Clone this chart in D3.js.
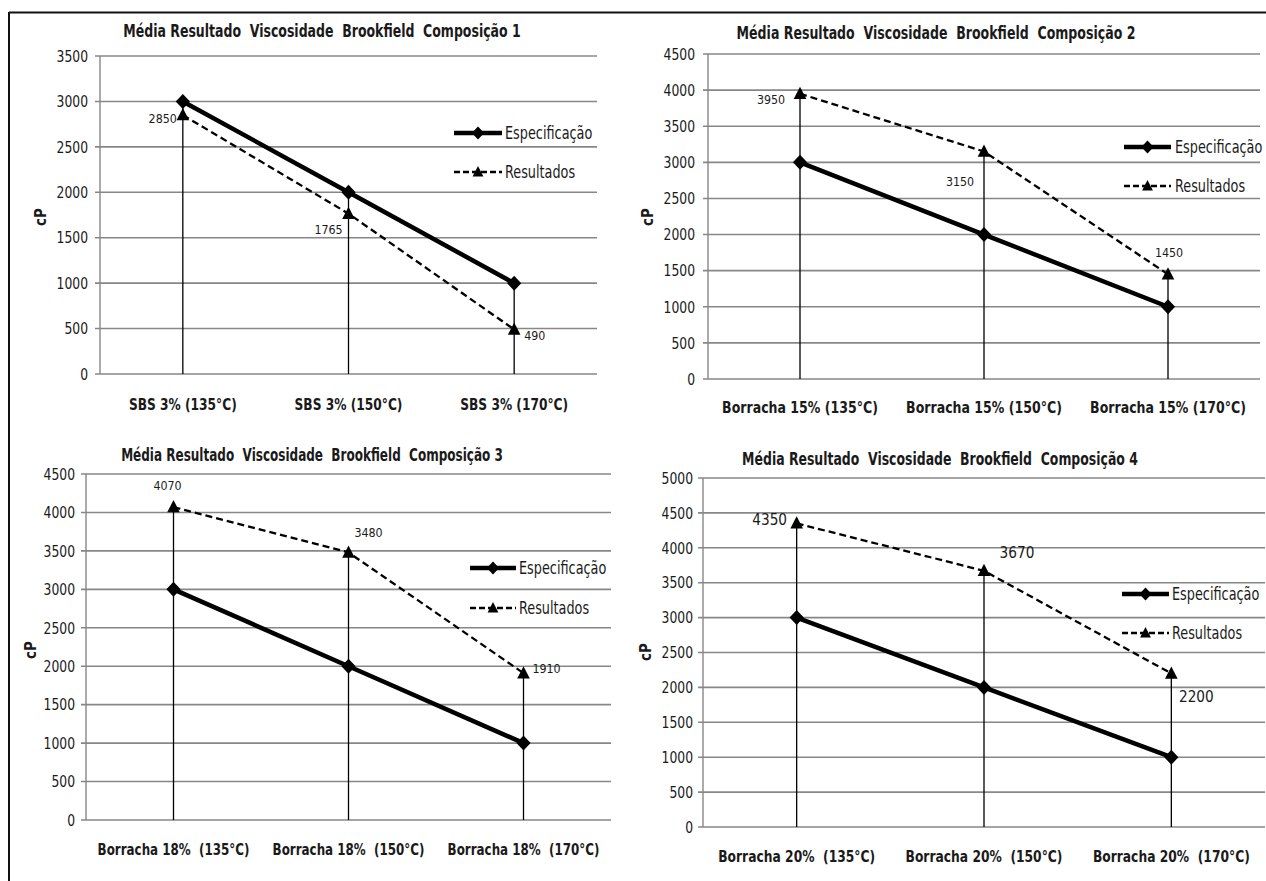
<!DOCTYPE html>
<html><head><meta charset="utf-8">
<script src="https://cdn.jsdelivr.net/npm/d3@7"></script>
<style>
html,body{margin:0;padding:0;background:#fff;}
svg{display:block;}
text{font-family:"DejaVu Sans Condensed","Liberation Sans Narrow","Arial Narrow",sans-serif;fill:#1a1a1a;}
</style></head><body>
<svg id="c" width="1266" height="881"></svg>
<script>
// ---- data ----
const titles = [
  "Média Resultado  Viscosidade  Brookfield  Composição 1",
  "Média Resultado  Viscosidade  Brookfield  Composição 2",
  "Média Resultado  Viscosidade  Brookfield  Composição 3",
  "Média Resultado  Viscosidade  Brookfield  Composição 4"
];
const categories1 = ["SBS 3% (135°C)", "SBS 3% (150°C)", "SBS 3% (170°C)"];
const categories2 = ["Borracha 15% (135°C)", "Borracha 15% (150°C)", "Borracha 15% (170°C)"];
const categories3 = ["Borracha 18%  (135°C)", "Borracha 18%  (150°C)", "Borracha 18%  (170°C)"];
const categories4 = ["Borracha 20%  (135°C)", "Borracha 20%  (150°C)", "Borracha 20%  (170°C)"];
const especificacao1 = [3000, 2000, 1000];
const resultados1 = [2850, 1765, 490];
const especificacao2 = [3000, 2000, 1000];
const resultados2 = [3950, 3150, 1450];
const especificacao3 = [3000, 2000, 1000];
const resultados3 = [4070, 3480, 1910];
const especificacao4 = [3000, 2000, 1000];
const resultados4 = [4350, 3670, 2200];
const yMax = [3500, 4500, 4500, 5000];
const yStep = 500;
const seriesNames = ["Especificação", "Resultados"];
const yAxisTitle = "cP";

// ---- layout (positions only) ----
const layout = [
  {x0:100,x1:597,y0:56,y1:374,tickR:88,cpX:41,cpY:217,tX:322,tY:31,tW:398,xlY:404,xlW:108,
   lg:{x1:454,x2:502,tx:505,y1:133,y2:172}, lblFs:13,
   lbl:[{dx:-6,dy:3,a:"end"},{dx:-20,dy:16,a:"middle"},{dx:10,dy:6,a:"start"}]},
  {x0:708,x1:1260,y0:54,y1:379,tickR:695,cpX:648,cpY:217,tX:936,tY:33,tW:399,xlY:407,xlW:156,
   lg:{x1:1124,x2:1171,tx:1175,y1:147,y2:186}, lblFs:13,
   lbl:[{dx:-29,dy:6,a:"middle"},{dx:-24,dy:30,a:"middle"},{dx:1,dy:-22,a:"middle"}]},
  {x0:86,x1:611,y0:474,y1:820,tickR:75,cpX:31,cpY:650,tX:312,tY:455,tW:382,xlY:849,xlW:152,
   lg:{x1:470,x2:516,tx:519,y1:568,y2:608}, lblFs:13,
   lbl:[{dx:-6,dy:-22,a:"middle"},{dx:20,dy:-20,a:"middle"},{dx:23,dy:-5,a:"middle"}]},
  {x0:703,x1:1265,y0:478,y1:827,tickR:693,cpX:646,cpY:652,tX:940,tY:459,tW:396,xlY:856,xlW:157,
   lg:{x1:1122,x2:1169,tx:1172,y1:594,y2:633}, lblFs:16,
   lbl:[{dx:-27,dy:-4,a:"middle"},{dx:33,dy:-19,a:"middle"},{dx:25,dy:23,a:"middle"}]}
];

const cats = [categories1, categories2, categories3, categories4];
const specs = [especificacao1, especificacao2, especificacao3, especificacao4];
const ress = [resultados1, resultados2, resultados3, resultados4];

const svg = d3.select("#c");
// outer frame (top & left)
svg.append("line").attr("x1",9).attr("x2",1266).attr("y1",12.5).attr("y2",12.5).attr("stroke","#111").attr("stroke-width",2);
svg.append("line").attr("x1",9).attr("x2",9).attr("y1",12).attr("y2",881).attr("stroke","#111").attr("stroke-width",2);

function diamond(s){ return `M0,${-s}L${s*0.95},0L0,${s}L${-s*0.95},0Z`; }
function tri(s){ return `M0,${-s}L${s*0.9},${s*0.75}L${-s*0.9},${s*0.75}Z`; }

// text helper: horizontal compression to mimic a narrow face
function txt(g, x, y, s, o) {
  const wrap = g.append("g");
  const t = wrap.append("text")
    .attr("text-anchor", o.anchor || "start").attr("dy", "0.36em")
    .attr("font-size", o.size).attr("font-weight", o.weight || "normal")
    .attr("xml:space", "preserve").style("white-space", "pre").text(s);
  let sx = o.sx || 1;
  if (o.len) { const w = t.node().getComputedTextLength(); if (w > 0) sx = o.len / w; }
  wrap.attr("transform", `translate(${x},${y}) scale(${sx},1)`);
  return t;
}

layout.forEach((L, i) => {
  const g = svg.append("g");
  const x = d3.scalePoint().domain(cats[i]).range([L.x0, L.x1]).padding(0.5);
  const y = d3.scaleLinear().domain([0, yMax[i]]).range([L.y1, L.y0]);
  const ticks = d3.range(0, yMax[i] + 1, yStep);

  // gridlines
  g.selectAll(".grid").data(ticks).join("line")
    .attr("x1", L.x0 - 5).attr("x2", L.x1)
    .attr("y1", d => y(d)).attr("y2", d => y(d))
    .attr("stroke", "#878787").attr("stroke-width", 1.6);
  // y axis line
  g.append("line").attr("x1", L.x0).attr("x2", L.x0).attr("y1", y(yMax[i])).attr("y2", y(0))
    .attr("stroke", "#878787").attr("stroke-width", 1.4);
  // tick labels
  ticks.forEach(d => txt(g, L.tickR, y(d), String(d), {size:16, anchor:"end", sx:0.86}));
  // y title
  g.append("text").attr("transform", `translate(${L.cpX},${L.cpY}) rotate(-90)`)
    .attr("text-anchor", "middle").attr("dy", "0.36em").attr("font-weight", "bold")
    .attr("font-size", 15).text(yAxisTitle);
  // title
  txt(g, L.tX, L.tY, titles[i], {size:17, weight:"bold", anchor:"middle", len:L.tW});
  // x labels
  cats[i].forEach(c => txt(g, x(c), L.xlY, c, {size:16, weight:"bold", anchor:"middle", len:L.xlW}));

  // drop lines
  g.selectAll(".drop").data(cats[i]).join("line")
    .attr("x1", d => x(d)).attr("x2", d => x(d))
    .attr("y1", (d, j) => y(Math.max(specs[i][j], ress[i][j]))).attr("y2", y(0))
    .attr("stroke", "#000").attr("stroke-width", 1.3);

  const line = d3.line().x((d, j) => x(cats[i][j])).y(d => y(d));
  // spec line
  g.append("path").datum(specs[i]).attr("d", line).attr("fill", "none")
    .attr("stroke", "#000").attr("stroke-width", 4.5);
  g.selectAll(".dm").data(specs[i]).join("path")
    .attr("transform", (d, j) => `translate(${x(cats[i][j])},${y(d)})`)
    .attr("d", diamond(7.5)).attr("fill", "#000");
  // results line
  g.append("path").datum(ress[i]).attr("d", line).attr("fill", "none")
    .attr("stroke", "#000").attr("stroke-width", 2.3).attr("stroke-dasharray", "7,4");
  g.selectAll(".tr").data(ress[i]).join("path")
    .attr("transform", (d, j) => `translate(${x(cats[i][j])},${y(d)})`)
    .attr("d", tri(7)).attr("fill", "#000");
  // data labels
  ress[i].forEach((d, j) => txt(g, x(cats[i][j]) + L.lbl[j].dx, y(d) + L.lbl[j].dy, String(d),
    {size:L.lblFs, anchor:L.lbl[j].a, sx:0.95}));

  // legend
  const lg = L.lg, mx = (lg.x1 + lg.x2) / 2;
  g.append("line").attr("x1", lg.x1).attr("x2", lg.x2).attr("y1", lg.y1).attr("y2", lg.y1)
    .attr("stroke", "#000").attr("stroke-width", 4.5);
  g.append("path").attr("transform", `translate(${mx},${lg.y1})`).attr("d", diamond(6.5)).attr("fill", "#000");
  txt(g, lg.tx, lg.y1, seriesNames[0], {size:17, sx:0.84});
  g.append("line").attr("x1", lg.x1).attr("x2", lg.x2).attr("y1", lg.y2).attr("y2", lg.y2)
    .attr("stroke", "#000").attr("stroke-width", 2.3).attr("stroke-dasharray", "6,3");
  g.append("path").attr("transform", `translate(${mx},${lg.y2})`).attr("d", tri(6)).attr("fill", "#000");
  txt(g, lg.tx, lg.y2, seriesNames[1], {size:17, sx:0.84});
});
</script>
</body></html>
